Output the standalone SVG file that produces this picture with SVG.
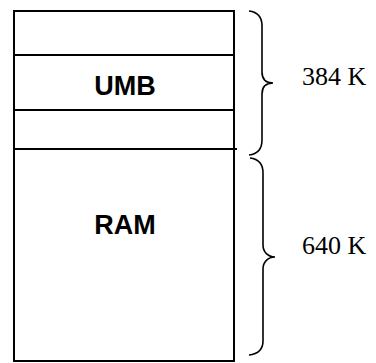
<svg xmlns="http://www.w3.org/2000/svg" width="376" height="363" viewBox="0 0 376 363">
<style>
.box{fill:#fff;stroke:#000;stroke-width:2}
.sep{stroke:#000;stroke-width:2}
.brace{fill:none;stroke:#000;stroke-width:1.6}
.lbl{font-family:"Liberation Sans",Arial,sans-serif;font-weight:bold;font-size:27px;fill:#000;text-anchor:middle}
.sz{font-family:"Liberation Serif","Times New Roman",serif;font-size:26px;fill:#000}
</style>
<rect width="376" height="363" fill="#fff"/>
<g id="memory">
<rect class="box" x="14" y="11" width="220" height="350"/>
</g>
<g id="top-block"><line class="sep" x1="14" y1="55" x2="234" y2="55"/></g>
<g id="umb"><text class="lbl" x="125" y="95">UMB</text></g>
<g id="umb-bottom"><line class="sep" x1="14" y1="110" x2="234" y2="110"/></g>
<g id="ram"><line class="sep" x1="14" y1="149" x2="237" y2="149"/><text class="lbl" x="125" y="234">RAM</text></g>
<g id="connectors">
<path class="brace" d="M249,11 C258,12 262,17 262,26 L262,72 C262,79 266,83 273,83 C266,83 262,87 262,94 L262,140 C262,149 258,154 249,155"/>
<path class="brace" d="M250,158 C259,159 263,164 263,173 L263,245 C263,252 268,257 275,257 C268,257 263,262 263,269 L263,341 C263,350 258,354 249,355"/>
</g>
<g id="size-384"><text class="sz" x="302" y="85">384 K</text></g>
<g id="size-640"><text class="sz" x="302" y="254">640 K</text></g>
</svg>
